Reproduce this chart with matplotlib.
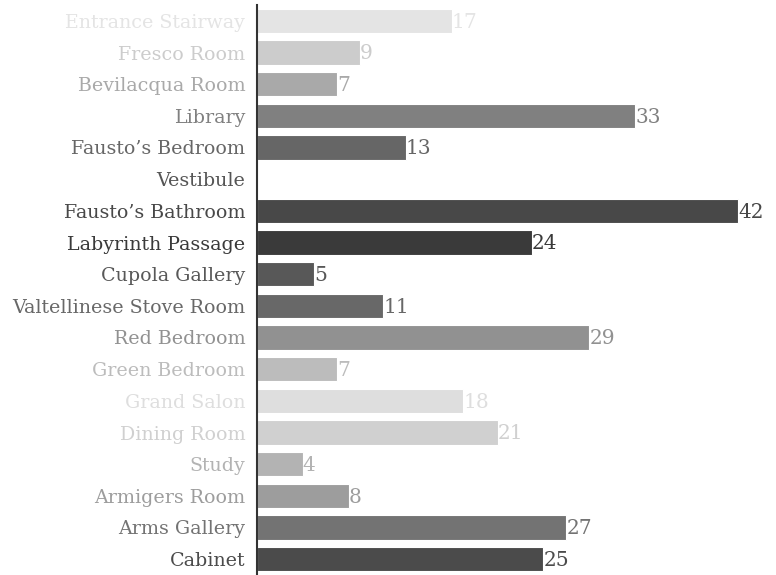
import matplotlib
matplotlib.use("Agg")
import matplotlib.pyplot as plt

rooms = ["Entrance Stairway", "Fresco Room", "Bevilacqua Room", "Library",
         "Fausto’s Bedroom", "Vestibule", "Fausto’s Bathroom", "Labyrinth Passage",
         "Cupola Gallery", "Valtellinese Stove Room", "Red Bedroom", "Green Bedroom",
         "Grand Salon", "Dining Room", "Study", "Armigers Room", "Arms Gallery", "Cabinet"]
values = [17, 9, 7, 33, 13, 0, 42, 24, 5, 11, 29, 7, 18, 21, 4, 8, 27, 25]
colors = ["#e4e4e4", "#cccccc", "#a9a9a9", "#808080", "#666666", "#555555",
          "#484848", "#3a3a3a", "#585858", "#686868", "#919191", "#bcbcbc",
          "#dedede", "#d0d0d0", "#b3b3b3", "#9d9d9d", "#737373", "#4b4b4b"]

plt.rcParams['font.family'] = ['DejaVu Serif']

fig = plt.figure(figsize=(7.76, 5.75), dpi=100)
ax = fig.add_axes([257/776, 0, 1 - 257/776, 1 - 5/575])

y = list(range(len(rooms)))
ax.barh(y, values, height=0.76, color=colors, edgecolor="white", linewidth=0.8)
ax.set_ylim(len(rooms) - 0.5, -0.5)
ax.set_xlim(0, 45.3)

ax.set_yticks(y)
ax.set_yticklabels(rooms, fontsize=13.7)
for lab, c in zip(ax.get_yticklabels(), colors):
    lab.set_color(c)
ax.tick_params(axis='y', length=0, pad=8.5)
ax.set_xticks([])

for yi, v, c in zip(y, values, colors):
    if v > 0:
        ax.text(v, yi + 0.04, str(v), color=c, fontsize=14.5, va='center', ha='left')

for s in ["top", "right", "bottom"]:
    ax.spines[s].set_visible(False)
ax.spines["left"].set_color("#333333")
ax.spines["left"].set_linewidth(1.5)

fig.savefig("out.png", dpi=100)
